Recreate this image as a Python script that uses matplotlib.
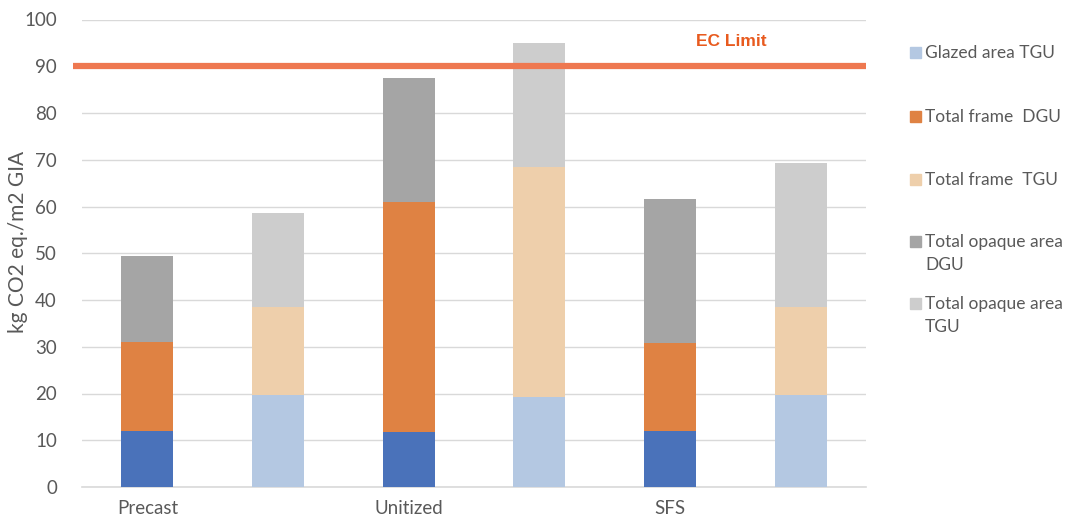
import matplotlib
matplotlib.use("Agg")
import matplotlib.pyplot as plt
from matplotlib.patches import Rectangle
import numpy as np

# ---- data ----
bar_groups = ["Precast", "", "Unitized", "", "SFS", ""]
glazed_dgu = [12.0, 0, 11.7, 0, 11.9, 0]
glazed_tgu = [0, 19.6, 0, 19.2, 0, 19.6]
frame_dgu = [19.0, 0, 49.2, 0, 19.0, 0]
frame_tgu = [0, 19.0, 0, 49.2, 0, 19.0]
opaque_dgu = [18.4, 0, 26.6, 0, 30.7, 0]
opaque_tgu = [0, 20.0, 0, 26.6, 0, 30.7]
ec_limit = 90
y_ticks = [0, 10, 20, 30, 40, 50, 60, 70, 80, 90, 100]

series_names = ["Glazed area DGU", "Glazed area TGU", "Total frame  DGU", "Total frame  TGU",
                "Total opaque area\nDGU", "Total opaque area\nTGU"]
series_vals = [glazed_dgu, glazed_tgu, frame_dgu, frame_tgu, opaque_dgu, opaque_tgu]
series_colors = ["#4A72BA", "#B4C8E2", "#DF8243", "#EECFAB", "#A5A5A5", "#CDCDCD"]
legend_names = series_names[1:]
legend_colors = series_colors[1:]

plt.rcParams['font.family'] = ['Lato', 'DejaVu Sans']

fig = plt.figure(figsize=(10.69, 5.19), dpi=100)
W, H = 1069, 519
ax = fig.add_axes([82 / W, 1 - 487 / H, (866 - 82) / W, (487 - 19.5) / H])

x = np.arange(len(bar_groups))
bottom = np.zeros(len(bar_groups))
for name, vals, col in zip(series_names, series_vals, series_colors):
    v = np.array(vals, dtype=float)
    ax.bar(x, v, width=0.4, bottom=bottom, color=col, label=name, zorder=3)
    bottom += v

ax.set_xlim(-0.5, len(bar_groups) - 0.5)
ax.set_ylim(0, 100)
ax.set_yticks(y_ticks)
ax.set_xticks(x)
ax.set_xticklabels(bar_groups)
ax.grid(axis="y", color="#D9D9D9", linewidth=1, zorder=0)
for s in ["top", "right", "left"]:
    ax.spines[s].set_visible(False)
ax.spines["bottom"].set_color("#D9D9D9")
ax.spines["bottom"].set_linewidth(1.2)
ax.tick_params(axis="both", length=0, labelsize=13.5, colors="#595959")
ax.tick_params(axis="y", pad=18)
ax.tick_params(axis="x", pad=9)
ax.set_ylabel("kg CO2 eq./m2 GIA", fontsize=15, color="#595959")
ax.yaxis.set_label_coords(-(82 - 28) / (866 - 82), 0.525)

# EC limit line (extends slightly left of plot area)
ax.plot([-0.57, len(bar_groups) - 0.5], [ec_limit, ec_limit], color="#EE7850",
        linewidth=4.5, zorder=4, clip_on=False, solid_capstyle="butt")
ax.text(4.2, ec_limit + 5.2, "EC Limit", color="#E85A1E", fontsize=12.5,
        fontweight="bold", family="Liberation Sans", ha="left", va="center", zorder=5)

# legend (manual)
y_first = [53, 117, 180, 242, 304]
for yy, name, col in zip(y_first, legend_names, legend_colors):
    fig.patches.append(Rectangle((910 / W, 1 - (yy + 5) / H), 11 / W, 11 / H,
                                 transform=fig.transFigure, color=col, figure=fig))
    fig.text(925 / W, 1 - (yy - 8) / H, name, fontsize=12.5, color="#595959",
             ha="left", va="top", linespacing=1.5)

fig.savefig("out.png", dpi=100)
